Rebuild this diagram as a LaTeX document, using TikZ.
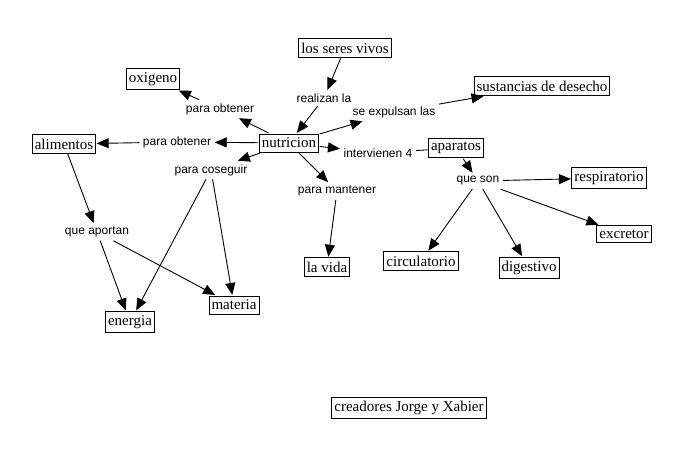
\documentclass[tikz,border=0pt]{standalone}
\usepackage{fontspec}
\setmainfont{Liberation Serif}
\newfontfamily\linkfont{Liberation Sans}
\usetikzlibrary{arrows.meta}

\begin{document}
\begin{tikzpicture}[
  x=1pt, y=-1pt,
  concept/.style={
    draw, rectangle, line width=0.9pt,
    inner xsep=2.5pt, inner ysep=4pt, outer sep=1pt,
    font=\fontsize{15}{18}\selectfont
  },
  link/.style={inner sep=3.5pt, font=\linkfont\fontsize{12}{14}\selectfont},
  arr/.style={-{Triangle[length=12pt,width=10pt]}, line width=0.9pt},
  plain/.style={line width=0.9pt}
]
  \useasboundingbox (0,0) rectangle (693,460);

  % concepts
  \node[concept] (seres) at (345,48) {los seres vivos};
  \node[concept] (oxi) at (153,79) {oxigeno};
  \node[concept] (desecho) at (542,86) {sustancias de desecho};
  \node[concept] (nutri) at (289,143) {nutricion};
  \node[concept] (alim) at (64,144) {alimentos};
  \node[concept] (apar) at (456,148) {aparatos};
  \node[concept] (resp) at (609,178) {respiratorio};
  \node[concept] (vida) at (327,267) {la vida};
  \node[concept] (circ) at (421,261) {circulatorio};
  \node[concept] (dige) at (529,268) {digestivo};
  \node[concept] (excr) at (624,234) {excretor};
  \node[concept] (ener) at (130,322) {energia};
  \node[concept] (mate) at (234,305) {materia};
  \node[concept] (autores) at (409,408) {creadores Jorge y Xabier};

  % linking phrases
  \node[link] (obtA) at (220,109) {para obtener};
  \node[link] (real) at (324,98) {realizan la};
  \node[link] (expul) at (394,112) {se expulsan las};
  \node[link] (obtB) at (177,142) {para obtener};
  \node[link] (cons) at (211,170) {para coseguir};
  \node[link] (interv) at (378,153) {intervienen 4};
  \node[link] (queson) at (478,181) {que son};
  \node[link] (mant) at (337,191) {para mantener};
  \node[link] (aport) at (97,232) {que aportan};

  \draw[arr] (seres) -- (real);
  \draw[arr] (real) -- (nutri);
  \draw[arr] (nutri) -- (obtA);
  \draw[arr] (obtA) -- (oxi);
  \draw[arr] (nutri) -- (obtB);
  \draw[arr] (obtB) -- (alim);
  \draw[arr] (nutri) -- (cons);
  \draw[arr] (cons) -- (ener);
  \draw[arr] (cons) -- (mate);
  \draw[arr] (nutri) -- (expul);
  \draw[arr] (expul) -- (desecho);
  \draw[arr] (nutri) -- (interv);
  \draw[plain] (interv) -- (apar);
  \draw[arr] (apar) -- (queson);
  \draw[arr] (queson) -- (resp);
  \draw[arr] (queson) -- (excr);
  \draw[arr] (queson) -- (circ);
  \draw[arr] (queson) -- (dige);
  \draw[arr] (nutri) -- (mant);
  \draw[arr] (mant) -- (vida);
  \draw[arr] (alim) -- (aport);
  \draw[arr] (aport) -- (ener);
  \draw[arr] (aport) -- (mate);
\end{tikzpicture}
\end{document}
